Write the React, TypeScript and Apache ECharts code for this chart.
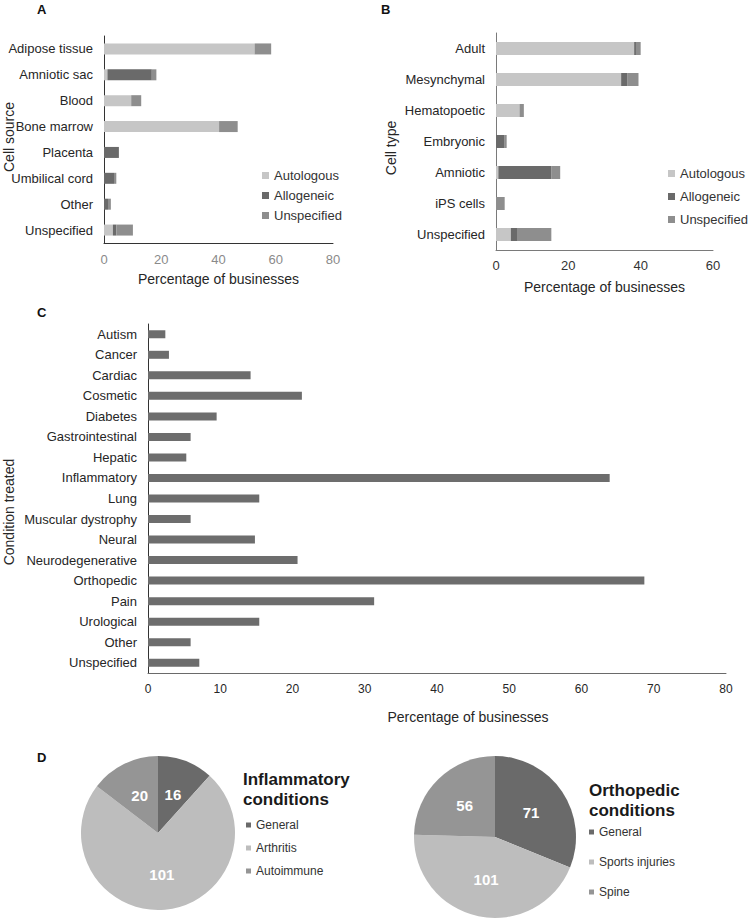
import React, { useEffect, useRef } from "react";
import * as echarts from "echarts";

const FONT = "'Liberation Sans', Arial, Helvetica, sans-serif";

// Panel A – cell source
const sourceCategories = ["Adipose tissue", "Amniotic sac", "Blood", "Bone marrow", "Placenta", "Umbilical cord", "Other", "Unspecified"];
const sourceAutologous = [52.6, 1.2, 9.5, 40.2, 0, 0, 0, 3.1];
const sourceAllogeneic = [0, 15.5, 0, 0, 5.2, 3.5, 1.4, 1.2];
const sourceUnspecified = [5.8, 1.6, 3.5, 6.5, 0, 0.8, 1.0, 5.8];
const sourceAxis = { min: 0, max: 80, interval: 20 };

// Panel B – cell type
const typeCategories = ["Adult", "Mesynchymal", "Hematopoetic", "Embryonic", "Amniotic", "iPS cells", "Unspecified"];
const typeAutologous = [38.2, 34.6, 6.5, 0, 0.65, 0, 4.1];
const typeAllogeneic = [0.5, 1.8, 0, 2.4, 14.6, 0, 1.7];
const typeUnspecified = [1.3, 3.0, 1.2, 0.55, 2.5, 2.4, 9.5];
const typeAxis = { min: 0, max: 60, interval: 20 };

// Panel C – condition treated
const conditionCategories = [
  "Autism", "Cancer", "Cardiac", "Cosmetic", "Diabetes", "Gastrointestinal", "Hepatic", "Inflammatory",
  "Lung", "Muscular dystrophy", "Neural", "Neurodegenerative", "Orthopedic", "Pain", "Urological", "Other", "Unspecified",
];
const conditionValues = [2.4, 2.9, 14.2, 21.3, 9.5, 5.9, 5.3, 63.9, 15.4, 5.9, 14.8, 20.7, 68.7, 31.3, 15.4, 5.9, 7.1];
const conditionAxis = { min: 0, max: 80, interval: 10 };

// Panel D – pies
const inflammatoryNames = ["General", "Arthritis", "Autoimmune"];
const inflammatoryCounts = [16, 101, 20];
const orthopedicNames = ["General", "Sports injuries", "Spine"];
const orthopedicCounts = [71, 101, 56];

const originNames = ["Autologous", "Allogeneic", "Unspecified"];

const C_LIGHT = "#c6c6c6";
const C_DARK = "#6a6a6a";
const C_MID = "#8e8e8e";
const C_BAR = "#6d6d6d";
const P_DARK = "#6a6a6a";
const P_LIGHT = "#bdbdbd";
const P_MID = "#959595";

function buildOption() {
  const originColors = [C_LIGHT, C_DARK, C_MID];
  const aSeries = [sourceAutologous, sourceAllogeneic, sourceUnspecified].map((d, i) => ({
    type: "bar",
    name: originNames[i],
    stack: "a",
    xAxisIndex: 0,
    yAxisIndex: 0,
    barWidth: 11,
    itemStyle: { color: originColors[i] },
    data: d,
  }));
  const bSeries = [typeAutologous, typeAllogeneic, typeUnspecified].map((d, i) => ({
    type: "bar",
    name: originNames[i],
    stack: "b",
    xAxisIndex: 1,
    yAxisIndex: 1,
    barWidth: 13,
    itemStyle: { color: originColors[i] },
    data: d,
  }));

  const catAxis = (idx: number, data: string[], lineColor: string) => ({
    type: "category",
    gridIndex: idx,
    inverse: true,
    data,
    axisLine: { show: true, lineStyle: { color: lineColor, width: 1 } },
    axisTick: { show: false },
    axisLabel: { fontSize: 13, color: "#262626", margin: 11, fontFamily: FONT },
  });

  const valAxis = (idx: number, range: any, lineColor: string, labelColor: string, fontSize: number, margin: number, name?: string, nameGap?: number) => ({
    type: "value",
    gridIndex: idx,
    ...range,
    splitLine: { show: false },
    axisTick: { show: false },
    axisLine: { show: true, lineStyle: { color: lineColor, width: 1 } },
    axisLabel: { fontSize, color: labelColor, margin, fontFamily: FONT },
    name,
    nameLocation: "middle",
    nameGap,
    nameTextStyle: { fontSize: 14, color: "#262626", fontFamily: FONT },
  });

  const legendBase = {
    orient: "vertical",
    icon: "rect",
    selectedMode: false,
    padding: 0,
  };

  return {
    animation: false,
    textStyle: { fontFamily: FONT },
    grid: [
      { left: 104, top: 36, width: 229, height: 207, outerBoundsMode: "none" },
      { left: 496, top: 33, width: 217, height: 217, outerBoundsMode: "none" },
      { left: 148, top: 324, width: 578, height: 349, outerBoundsMode: "none" },
    ],
    xAxis: [
      valAxis(0, sourceAxis, "#333333", "#8a8a8a", 13, 10, "Percentage of businesses", 29),
      valAxis(1, typeAxis, "#7a7a7a", "#333333", 13, 9, "Percentage of businesses", 30),
      valAxis(2, conditionAxis, "#6a6a6a", "#262626", 12, 10),
    ],
    yAxis: [
      catAxis(0, sourceCategories, "#333333"),
      catAxis(1, typeCategories, "#7a7a7a"),
      catAxis(2, conditionCategories, "#333333"),
    ],
    legend: [
      {
        ...legendBase,
        left: 262,
        top: 169,
        itemWidth: 7,
        itemHeight: 7,
        itemGap: 7,
        data: originNames,
        textStyle: { fontSize: 13, color: "#333333", fontFamily: FONT },
      },
      {
        ...legendBase,
        left: 668,
        top: 167,
        itemWidth: 7,
        itemHeight: 7,
        itemGap: 10,
        data: originNames,
        textStyle: { fontSize: 13, color: "#333333", fontFamily: FONT },
      },
      {
        ...legendBase,
        left: 246,
        top: 819,
        itemWidth: 5,
        itemHeight: 5,
        itemGap: 11,
        data: inflammatoryNames,
        textStyle: { fontSize: 12, color: "#333333", fontFamily: FONT },
      },
      {
        ...legendBase,
        left: 589,
        top: 826,
        itemWidth: 5,
        itemHeight: 5,
        itemGap: 18,
        data: orthopedicNames,
        textStyle: { fontSize: 12, color: "#333333", fontFamily: FONT },
      },
    ],
    series: [
      ...aSeries,
      ...bSeries,
      {
        type: "bar",
        name: "Condition treated",
        xAxisIndex: 2,
        yAxisIndex: 2,
        barWidth: 8,
        itemStyle: { color: C_BAR },
        data: conditionValues,
      },
      {
        type: "pie",
        name: "Inflammatory conditions",
        center: [158, 833],
        radius: 77,
        startAngle: 90,
        clockwise: true,
        label: { show: true, position: "inside", formatter: "{c}", color: "#ffffff", fontSize: 15, fontWeight: "bold", fontFamily: FONT },
        labelLine: { show: false },
        itemStyle: { borderWidth: 0 },
        emphasis: { disabled: true },
        data: inflammatoryNames.map((n, i) => ({ name: n, value: inflammatoryCounts[i], itemStyle: { color: [P_DARK, P_LIGHT, P_MID][i] } })),
      },
      {
        type: "pie",
        name: "Orthopedic conditions",
        center: [495, 837],
        radius: 81,
        startAngle: 90,
        clockwise: true,
        label: { show: true, position: "inside", formatter: "{c}", color: "#ffffff", fontSize: 15, fontWeight: "bold", fontFamily: FONT },
        labelLine: { show: false },
        itemStyle: { borderWidth: 0 },
        emphasis: { disabled: true },
        data: orthopedicNames.map((n, i) => ({ name: n, value: orthopedicCounts[i], itemStyle: { color: [P_DARK, P_LIGHT, P_MID][i] } })),
      },
    ],
    graphic: [
      { type: "text", left: 37, top: 3, style: { text: "A", fontSize: 13, fontWeight: "bold", fill: "#111", fontFamily: FONT } },
      { type: "text", left: 381, top: 3, style: { text: "B", fontSize: 13, fontWeight: "bold", fill: "#111", fontFamily: FONT } },
      { type: "text", left: 37, top: 306, style: { text: "C", fontSize: 13, fontWeight: "bold", fill: "#111", fontFamily: FONT } },
      { type: "text", left: 37, top: 751, style: { text: "D", fontSize: 13, fontWeight: "bold", fill: "#111", fontFamily: FONT } },
      {
        type: "text", x: 9, y: 137, rotation: Math.PI / 2,
        style: { text: "Cell source", fontSize: 14, fill: "#262626", align: "center", verticalAlign: "middle", fontFamily: FONT },
      },
      {
        type: "text", x: 391, y: 148, rotation: Math.PI / 2,
        style: { text: "Cell type", fontSize: 14, fill: "#262626", align: "center", verticalAlign: "middle", fontFamily: FONT },
      },
      {
        type: "text", x: 9, y: 512, rotation: Math.PI / 2,
        style: { text: "Condition treated", fontSize: 14, fill: "#262626", align: "center", verticalAlign: "middle", fontFamily: FONT },
      },
      {
        type: "text", x: 468, y: 717,
        style: { text: "Percentage of businesses", fontSize: 14, fill: "#262626", align: "center", verticalAlign: "middle", fontFamily: FONT },
      },
      {
        type: "text", x: 243, y: 769,
        style: { text: "Inflammatory\nconditions", fontSize: 17, lineHeight: 20.5, fontWeight: "bold", fill: "#1a1a1a", align: "left", verticalAlign: "top", fontFamily: FONT },
      },
      {
        type: "text", x: 589, y: 780,
        style: { text: "Orthopedic\nconditions", fontSize: 17, lineHeight: 20.5, fontWeight: "bold", fill: "#1a1a1a", align: "left", verticalAlign: "top", fontFamily: FONT },
      },
    ],
  };
}

export default function App() {
  const ref = useRef<HTMLDivElement>(null);
  useEffect(() => {
    if (!ref.current) return;
    const chart = echarts.init(ref.current, null, { renderer: "svg" });
    chart.setOption(buildOption() as any);
    return () => chart.dispose();
  }, []);
  return (
    <div
      ref={ref}
      style={{ position: "absolute", left: 0, top: 0, width: 748, height: 920, background: "#ffffff" }}
    />
  );
}
